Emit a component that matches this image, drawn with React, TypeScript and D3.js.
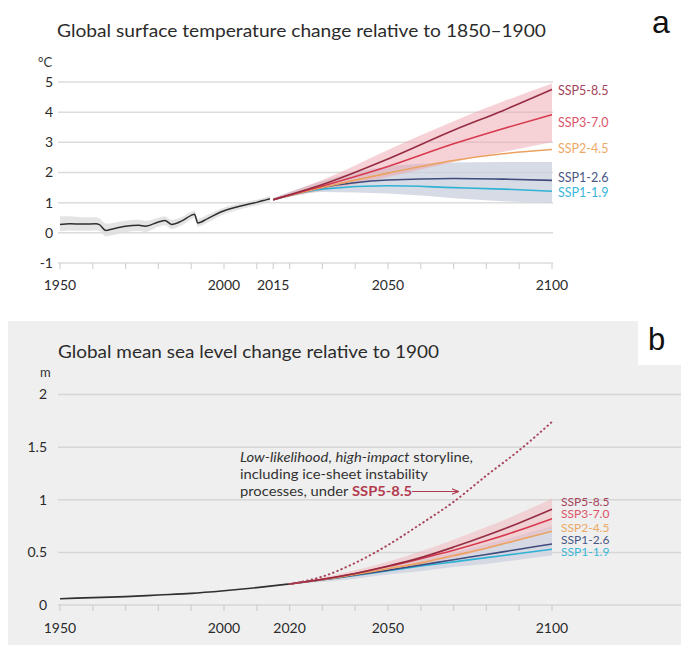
import React from "react";
import * as d3 from "d3";

// ---- panel a: global surface temperature (°C, relative to 1850-1900) ----
const tempHistYears = [1950, 1953, 1957, 1961, 1962, 1964, 1966, 1970, 1974, 1976, 1980, 1982, 1984, 1987, 1990, 1991, 1992, 1995, 1999, 2003, 2007, 2010, 2013, 2014];
const tempHist = [0.28, 0.3, 0.29, 0.3, 0.27, 0.08, 0.13, 0.22, 0.25, 0.22, 0.36, 0.41, 0.28, 0.39, 0.58, 0.62, 0.33, 0.47, 0.69, 0.83, 0.94, 1.01, 1.1, 1.13];
const tempHistLow = [0.05, 0.08, 0.07, 0.08, 0.06, -0.12, -0.08, 0.02, 0.06, 0.03, 0.2, 0.25, 0.13, 0.24, 0.44, 0.48, 0.2, 0.34, 0.57, 0.72, 0.84, 0.91, 1.0, 1.03];
const tempHistHigh = [0.55, 0.55, 0.52, 0.52, 0.48, 0.3, 0.33, 0.4, 0.43, 0.4, 0.5, 0.55, 0.43, 0.52, 0.7, 0.74, 0.47, 0.6, 0.8, 0.93, 1.03, 1.1, 1.19, 1.21];

const tempProjYears = [2015, 2030, 2050, 2070, 2085, 2100];
const tempSsp585 = [1.1, 1.6, 2.45, 3.4, 4.05, 4.75];
const tempSsp370 = [1.1, 1.55, 2.2, 2.95, 3.45, 3.92];
const tempSsp245 = [1.1, 1.5, 1.98, 2.4, 2.62, 2.76];
const tempSsp126 = [1.1, 1.5, 1.75, 1.8, 1.78, 1.74];
const tempSsp119 = [1.1, 1.45, 1.56, 1.5, 1.45, 1.38];
const tempPinkHigh = [1.15, 1.75, 2.75, 3.7, 4.35, 4.95];
const tempPinkLow = [1.08, 1.4, 1.85, 2.35, 2.68, 3.0];
const tempGrayHigh = [1.15, 1.72, 2.2, 2.33, 2.35, 2.35];
const tempGrayLow = [1.08, 1.35, 1.3, 1.15, 1.05, 1.0];

const tempYTicks = [5, 4, 3, 2, 1, 0, -1];
const tempXLabels = [1950, 2000, 2015, 2050, 2100];
const tempXTicks = [1950, 1960, 1970, 1980, 1990, 2000, 2010, 2015, 2020, 2030, 2040, 2050, 2060, 2070, 2080, 2090, 2100];

// ---- panel b: global mean sea level (m, relative to 1900) ----
const seaHistYears = [1950, 1960, 1970, 1980, 1990, 2000, 2010, 2020];
const seaHist = [0.06, 0.07, 0.08, 0.095, 0.11, 0.135, 0.165, 0.2];

const seaProjYears = [2020, 2030, 2040, 2050, 2060, 2070, 2080, 2090, 2100];
const seaSsp585 = [0.2, 0.245, 0.3, 0.37, 0.45, 0.55, 0.66, 0.78, 0.91];
const seaSsp370 = [0.2, 0.245, 0.3, 0.365, 0.44, 0.52, 0.61, 0.71, 0.82];
const seaSsp245 = [0.2, 0.24, 0.29, 0.345, 0.4, 0.47, 0.54, 0.62, 0.7];
const seaSsp126 = [0.2, 0.24, 0.285, 0.33, 0.38, 0.43, 0.48, 0.53, 0.58];
const seaSsp119 = [0.2, 0.24, 0.28, 0.325, 0.37, 0.41, 0.45, 0.49, 0.53];
const seaPinkHigh = [0.2, 0.26, 0.33, 0.41, 0.51, 0.62, 0.74, 0.87, 1.01];
const seaPinkLow = [0.2, 0.23, 0.27, 0.32, 0.38, 0.45, 0.53, 0.62, 0.72];
const seaGrayHigh = [0.2, 0.25, 0.3, 0.36, 0.43, 0.5, 0.58, 0.66, 0.75];
const seaGrayLow = [0.2, 0.22, 0.25, 0.29, 0.32, 0.36, 0.39, 0.43, 0.47];
const seaStoryline = [0.2, 0.27, 0.4, 0.57, 0.77, 0.98, 1.23, 1.47, 1.74];

const seaYTicks = [2, 1.5, 1, 0.5, 0];
const seaXLabels = [1950, 2000, 2020, 2050, 2100];
const seaXTicks = [1950, 1960, 1970, 1980, 1990, 2000, 2010, 2020, 2030, 2040, 2050, 2060, 2070, 2080, 2090, 2100];

const sspNames = ["SSP5-8.5", "SSP3-7.0", "SSP2-4.5", "SSP1-2.6", "SSP1-1.9"];
const sspLine = ["#962c42", "#d73a50", "#eba25e", "#3e4b7c", "#30b2d5"];
const sspText = ["#a3445a", "#dd5468", "#eda866", "#4a5786", "#3ab6da"];

const FONT = "Lato, 'Noto Sans', sans-serif";

type Pt = { x: number; y: number };
const zip = (xs: number[], ys: number[]): Pt[] => xs.map((x, i) => ({ x, y: ys[i] }));
const band = (xs: number[], lo: number[], hi: number[]) =>
  xs.map((x, i) => ({ x, lo: lo[i], hi: hi[i] }));

export default function App() {
  const x = d3.scaleLinear().domain([1950, 2100]).range([60, 552]);
  const yT = d3.scaleLinear().domain([-1, 5]).range([263, 82]);
  const yS = d3.scaleLinear().domain([0, 2]).range([605, 394.5]);

  const lineT = d3.line<Pt>().x((d) => x(d.x)).y((d) => yT(d.y)).curve(d3.curveMonotoneX);
  const lineS = d3.line<Pt>().x((d) => x(d.x)).y((d) => yS(d.y)).curve(d3.curveMonotoneX);
  const areaT = d3
    .area<{ x: number; lo: number; hi: number }>()
    .x((d) => x(d.x))
    .y0((d) => yT(d.lo))
    .y1((d) => yT(d.hi))
    .curve(d3.curveMonotoneX);
  const areaS = d3
    .area<{ x: number; lo: number; hi: number }>()
    .x((d) => x(d.x))
    .y0((d) => yS(d.lo))
    .y1((d) => yS(d.hi))
    .curve(d3.curveMonotoneX);

  const tempSeries = [tempSsp585, tempSsp370, tempSsp245, tempSsp126, tempSsp119];
  const seaSeries = [seaSsp585, seaSsp370, seaSsp245, seaSsp126, seaSsp119];
  const tempLabelY = [91, 123, 149, 178, 193];
  const seaLabelY = [502, 514, 528, 540, 552];

  return (
    <svg
      width={681}
      height={645}
      style={{ position: "absolute", left: 0, top: 0, background: "#fff" }}
      fontFamily={FONT}
    >
      <defs>
        <marker id="arr" viewBox="0 0 10 10" refX="9" refY="5" markerWidth="6" markerHeight="6" orient="auto">
          <path d="M0,1 L10,5 L0,9" fill="none" stroke="#b23a4f" strokeWidth="1.6" />
        </marker>
      </defs>

      {/* ---------- panel a ---------- */}
      <text x={57} y={37} fontSize={17} fill="#2b2b2b" textLength={489} lengthAdjust="spacingAndGlyphs">
        Global surface temperature change relative to 1850–1900
      </text>
      <text x={652} y={33} fontSize={32} fill="#111" fontFamily="'Liberation Sans', Arial, sans-serif">a</text>
      <text x={38} y={67} fontSize={13} fill="#333">°C</text>

      {tempYTicks.map((t) => (
        <g key={t}>
          <line x1={58} x2={553} y1={yT(t)} y2={yT(t)} stroke="#dcdcdc" strokeWidth={1.5} />
          <text x={53} y={yT(t)} dy="0.35em" textAnchor="end" fontSize={14} fill="#2b2b2b">
            {t < 0 ? `-${Math.abs(t)}` : t}
          </text>
        </g>
      ))}
      {tempXTicks.map((t) => (
        <line key={t} x1={x(t)} x2={x(t)} y1={yT(-1)} y2={yT(-1) + 6} stroke="#d4d4d4" strokeWidth={1.2} />
      ))}
      {tempXLabels.map((t) => (
        <text key={t} x={x(t)} y={290} textAnchor="middle" fontSize={14} fill="#2b2b2b">{t}</text>
      ))}

      <path d={areaT(band(tempHistYears, tempHistLow, tempHistHigh)) ?? ""} fill="#dddddd" opacity={0.8} />
      <path d={lineT(zip(tempHistYears, tempHist)) ?? ""} fill="none" stroke="#2f2f2f" strokeWidth={1.5} />

      <path d={areaT(band(tempProjYears, tempGrayLow, tempGrayHigh)) ?? ""} fill="#c9cfdc" opacity={0.75} />
      <path d={areaT(band(tempProjYears, tempPinkLow, tempPinkHigh)) ?? ""} fill="#eea3ab" opacity={0.5} />
      {tempSeries
        .map((s, i) => ({ s, i }))
        .reverse()
        .map(({ s, i }) => (
          <path key={i} d={lineT(zip(tempProjYears, s)) ?? ""} fill="none" stroke={sspLine[i]} strokeWidth={1.6} />
        ))}
      {sspNames.map((n, i) => (
        <text key={n} x={558} y={tempLabelY[i]} dy="0.35em" fontSize={12.5} fill={sspText[i]}>{n}</text>
      ))}

      {/* ---------- panel b ---------- */}
      <rect x={8} y={321} width={673} height={324} fill="#efefef" />
      <rect x={638} y={310} width={43} height={55} fill="#fff" />
      <text x={648} y={350} fontSize={31} fill="#111" fontFamily="'Liberation Sans', Arial, sans-serif">b</text>
      <text x={58} y={358} fontSize={17} fill="#2b2b2b" textLength={381} lengthAdjust="spacingAndGlyphs">
        Global mean sea level change relative to 1900
      </text>
      <text x={40} y={377} fontSize={13} fill="#333">m</text>

      {seaYTicks.map((t) => (
        <g key={t}>
          <line x1={58} x2={681} y1={yS(t)} y2={yS(t)} stroke="#d6d6d6" strokeWidth={1.5} />
          <text x={47} y={yS(t)} dy="0.35em" textAnchor="end" fontSize={14} fill="#2b2b2b">{t}</text>
        </g>
      ))}
      {seaXTicks.map((t) => (
        <line key={t} x1={x(t)} x2={x(t)} y1={yS(0)} y2={yS(0) + 6} stroke="#cfcfcf" strokeWidth={1.2} />
      ))}
      {seaXLabels.map((t) => (
        <text key={t} x={x(t)} y={633} textAnchor="middle" fontSize={14} fill="#2b2b2b">{t}</text>
      ))}

      <path d={lineS(zip(seaHistYears, seaHist)) ?? ""} fill="none" stroke="#2f2f2f" strokeWidth={1.6} />
      <path d={areaS(band(seaProjYears, seaGrayLow, seaGrayHigh)) ?? ""} fill="#cfd3e0" opacity={0.8} />
      <path d={areaS(band(seaProjYears, seaPinkLow, seaPinkHigh)) ?? ""} fill="#f2b3ba" opacity={0.5} />
      {seaSeries
        .map((s, i) => ({ s, i }))
        .reverse()
        .map(({ s, i }) => (
          <path key={i} d={lineS(zip(seaProjYears, s)) ?? ""} fill="none" stroke={sspLine[i]} strokeWidth={1.6} />
        ))}
      <path
        d={lineS(zip(seaProjYears, seaStoryline)) ?? ""}
        fill="none"
        stroke="#a8455a"
        strokeWidth={2}
        strokeDasharray="0.5 4"
        strokeLinecap="round"
      />
      {sspNames.map((n, i) => (
        <text key={n} x={561} y={seaLabelY[i]} dy="0.35em" fontSize={12} fill={sspText[i]}>{n}</text>
      ))}

      {/* storyline annotation */}
      <text x={240} y={462} fontSize={13} fill="#333" textLength={233} lengthAdjust="spacingAndGlyphs">
        <tspan fontStyle="italic">Low-likelihood</tspan>, <tspan fontStyle="italic">high-impact</tspan> storyline,
      </text>
      <text x={240} y={479} fontSize={13} fill="#333" textLength={188} lengthAdjust="spacingAndGlyphs">
        including ice-sheet instability
      </text>
      <text x={240} y={496} fontSize={13} fill="#333" textLength={172} lengthAdjust="spacingAndGlyphs">
        processes, under <tspan fill="#b23a4f" fontWeight="bold">SSP5-8.5</tspan>
      </text>
      <line x1={412} x2={458} y1={491.5} y2={491.5} stroke="#b23a4f" strokeWidth={1.2} markerEnd="url(#arr)" />
    </svg>
  );
}
